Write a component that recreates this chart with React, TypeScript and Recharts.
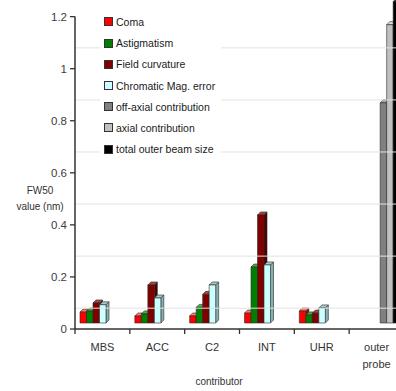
import React from "react";
import { BarChart, Bar, XAxis, YAxis, Legend, ReferenceLine } from "recharts";

const categories = ["MBS", "ACC", "C2", "INT", "UHR", "outer probe"];
const coma = [0.042, 0.027, 0.027, 0.038, 0.046, null];
const astigmatism = [0.046, 0.035, 0.06, 0.215, 0.031, null];
const fieldCurvature = [0.077, 0.146, 0.11, 0.415, 0.038, null];
const chromaticMag = [0.07, 0.096, 0.146, 0.223, 0.058, null];
const offAxial = [null, null, null, null, null, 0.846];
const axial = [null, null, null, null, null, 1.146];
const totalOuter = [null, null, null, null, null, 1.235];
const yTicks = [0, 0.2, 0.4, 0.6, 0.8, 1, 1.2];

const data = categories.map((name, i) => ({
  name,
  coma: coma[i],
  astig: astigmatism[i],
  field: fieldCurvature[i],
  chrom: chromaticMag[i],
  offAxial: offAxial[i],
  axial: axial[i],
  total: totalOuter[i],
}));

const series = [
  { key: "coma", name: "Coma", fill: "#ff0000", top: "#ff7a7a", side: "#a00000" },
  { key: "astig", name: "Astigmatism", fill: "#008000", top: "#4fa84f", side: "#004a00" },
  { key: "field", name: "Field curvature", fill: "#800000", top: "#a84444", side: "#4a0000" },
  { key: "chrom", name: "Chromatic Mag. error", fill: "#ccffff", top: "#a3c9c9", side: "#86b0b0" },
  { key: "offAxial", name: "off-axial contribution", fill: "#808080", top: "#a6a6a6", side: "#555555" },
  { key: "axial", name: "axial contribution", fill: "#c0c0c0", top: "#dddddd", side: "#8c8c8c" },
  { key: "total", name: "total outer beam size", fill: "#000000", top: "#3a3a3a", side: "#111111" },
];

const FONT = '"Liberation Sans", Arial, sans-serif';
const CHART_W = 404;
const CHART_H = 391;
const Y_W = 75;
const BAND = (CHART_W - Y_W) / categories.length;
const DEPTH = 3;
const LIFT = 6;
const WALL = 0.08;

function makeBox(s: any) {
  return (props: any) => {
    const { x, y, width, height } = props;
    if (height == null || !(height > 0)) return <g />;
    const d = DEPTH;
    const yy = y - LIFT;
    const x2 = x + width;
    const y2 = yy + height;
    return (
      <g stroke="#2a2a2a" strokeWidth={0.6} strokeLinejoin="round">
        <polygon points={`${x2},${yy} ${x2 + d},${yy - d} ${x2 + d},${y2 - d} ${x2},${y2}`} fill={s.side} />
        <polygon points={`${x},${yy} ${x + d},${yy - d} ${x2 + d},${yy - d} ${x2},${yy}`} fill={s.top} />
        <rect x={x} y={yy} width={width} height={height} fill={s.fill} />
      </g>
    );
  };
}

function CategoryTick(props: any) {
  const { x, y, payload } = props;
  const lines = String(payload.value).split(" ");
  return (
    <g>
      <line x1={x - BAND / 2} x2={x - BAND / 2} y1={y} y2={y + 5} stroke="#333" strokeWidth={1.3} />
      <text textAnchor="middle" fontFamily={FONT} fontSize={11} fill="#333">
        {lines.map((t, i) => (
          <tspan key={t} x={x} y={y + 22 + i * 17}>
            {t}
          </tspan>
        ))}
      </text>
    </g>
  );
}

function YTitle() {
  return (
    <text textAnchor="middle" fontFamily={FONT} fontSize={10} fill="#333">
      <tspan x={40} y={194}>FW50</tspan>
      <tspan x={40} y={210}>value (nm)</tspan>
    </text>
  );
}

function XTitle() {
  return (
    <text x={219} y={385} textAnchor="middle" fontFamily={FONT} fontSize={10} fill="#333">
      contributor
    </text>
  );
}

function LegendBox() {
  return (
    <div style={{ background: "#fff", padding: "0 6px 0 4px", fontFamily: FONT, fontSize: 10.5, color: "#1a1a1a" }}>
      {series.map((s) => (
        <div key={s.key} style={{ height: 21.2, display: "flex", alignItems: "center", whiteSpace: "nowrap" }}>
          <span
            style={{
              display: "inline-block",
              width: 7,
              height: 7,
              background: s.fill,
              border: "1px solid #333",
              marginRight: 3,
            }}
          />
          {s.name}
        </div>
      ))}
    </div>
  );
}

export default function App() {
  return (
    <div style={{ position: "fixed", left: 0, top: 0, width: 396, height: 391, overflow: "hidden", background: "#fff" }}>
      <BarChart
        width={CHART_W}
        height={CHART_H}
        data={data}
        margin={{ top: 1, right: 0, bottom: 0, left: 0 }}
        barSize={6.5}
        barGap={0}
      >
        {yTicks.slice(0, 6).map((t) => (
          <ReferenceLine key={t} y={t + WALL} stroke="#e2e2e2" strokeWidth={1} />
        ))}
        <XAxis
          dataKey="name"
          height={62}
          tickLine={false}
          tickSize={0}
          tickMargin={0}
          axisLine={{ stroke: "#333", strokeWidth: 1.5 }}
          tick={<CategoryTick />}
          interval={0}
          label={<XTitle />}
        />
        <XAxis xAxisId="edge" type="number" domain={[0, categories.length]} hide />
        <YAxis
          width={Y_W}
          domain={[0, 1.26]}
          ticks={yTicks}
          tickFormatter={(v: number) => String(v)}
          tickSize={5}
          tickMargin={3}
          axisLine={false}
          tickLine={{ stroke: "#333", strokeWidth: 1.3 }}
          tick={{ fontFamily: FONT, fontSize: 11.5, fill: "#404040" }}
          label={<YTitle />}
        />
        <ReferenceLine
          xAxisId="edge"
          segment={[
            { x: 0, y: 0 },
            { x: 0, y: yTicks[yTicks.length - 1] },
          ]}
          stroke="#333"
          strokeWidth={1.5}
        />
        <Legend
          layout="vertical"
          align="center"
          verticalAlign="middle"
          content={<LegendBox />}
          wrapperStyle={{ left: 100, top: 11.4, width: "auto", height: "auto" }}
        />
        {series.map((s) => (
          <Bar
            key={s.key}
            dataKey={s.key}
            name={s.name}
            fill={s.fill}
            shape={makeBox(s)}
            isAnimationActive={false}
          />
        ))}
      </BarChart>
    </div>
  );
}
